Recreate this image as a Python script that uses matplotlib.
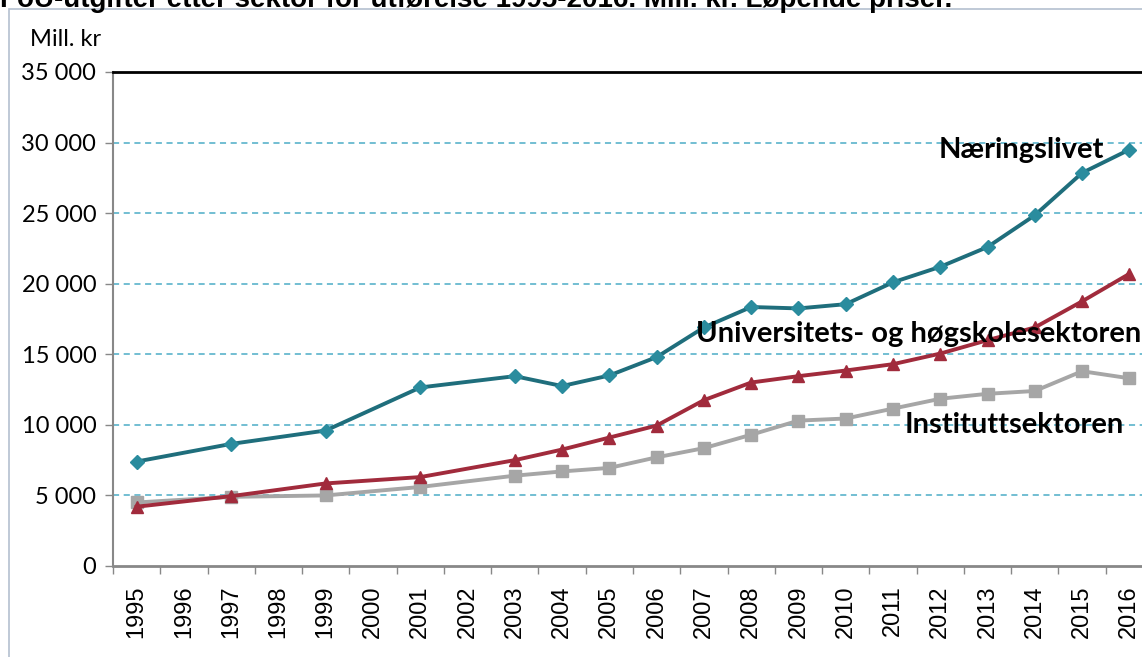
import numpy as np
import matplotlib
matplotlib.use("Agg")
import matplotlib.pyplot as plt
from matplotlib.patches import Rectangle

years = [str(y) for y in range(1995, 2017)]
nan = np.nan
naeringslivet = [7400, nan, 8650, nan, 9600, nan, 12650, nan, 13450, 12750, 13500,
                 14800, 16900, 18350, 18250, 18550, 20100, 21200, 22600, 24850,
                 27850, 29500]
uh_sektoren = [4200, nan, 4950, nan, 5850, nan, 6300, nan, 7500, 8250, 9100,
               9950, 11750, 13000, 13450, 13850, 14300, 15050, 16000, 16900,
               18750, 20700]
instituttsektoren = [4500, nan, 4900, nan, 5000, nan, 5600, nan, 6400, 6700, 6950,
                     7700, 8350, 9300, 10300, 10450, 11150, 11850, 12200, 12400,
                     13800, 13300]
yticks = [0, 5000, 10000, 15000, 20000, 25000, 30000, 35000]

fig = plt.figure(figsize=(11.42, 6.57), dpi=100)
ax = fig.add_axes([113 / 1142, 1 - 566 / 657, 1040 / 1142, 494 / 657])

x = np.arange(len(years))

def plot_series(vals, color, mcolor, marker, ms):
    v = np.array(vals, dtype=float)
    m = ~np.isnan(v)
    ax.plot(x[m], v[m], color=color, lw=2.8, marker=marker, ms=ms,
            markerfacecolor=mcolor, markeredgecolor=mcolor, zorder=3,
            clip_on=False)

plot_series(instituttsektoren, "#A6A6A6", "#A6A6A6", "s", 9)
plot_series(uh_sektoren, "#A12B3C", "#A12B3C", "^", 9)
plot_series(naeringslivet, "#1F6E7C", "#2A8C9E", "D", 7.5)

ax.set_xlim(-0.5, 21.5)
ax.set_ylim(0, 35000)
ax.set_yticks(yticks)
ax.set_yticklabels([f"{v:,}".replace(",", " ") for v in yticks],
                   fontsize=17, family="Lato")
for v in yticks[1:-1]:
    ax.axhline(v, color="#4BACC6", lw=1.1, ls=(0, (4, 3)), zorder=1)

ax.set_xticks(x)
ax.set_xticklabels(years, rotation=90, fontsize=17, family="Liberation Sans")
ax.set_xticks(np.arange(-0.5, 22, 1), minor=True)
ax.tick_params(axis="x", which="major", length=0, pad=14)
ax.tick_params(axis="x", which="minor", length=6, color="#888888", width=1)
ax.tick_params(axis="y", length=6, color="#888888", width=1, pad=6)

ax.spines["right"].set_visible(False)
ax.spines["top"].set_color("black")
ax.spines["top"].set_linewidth(2)
ax.spines["left"].set_color("#888888")
ax.spines["left"].set_linewidth(1.5)
ax.spines["bottom"].set_color("#888888")
ax.spines["bottom"].set_linewidth(2)

ax.text(20.47, 29450, "Næringslivet", ha="right", va="center",
        fontsize=21, fontweight="bold", family="Lato", zorder=4)
ax.text(21.25, 16450, "Universitets- og høgskolesektoren", ha="right", va="center",
        fontsize=21, fontweight="bold", family="Lato", zorder=4)
ax.text(20.89, 10000, "Instituttsektoren", ha="right", va="center",
        fontsize=21, fontweight="bold", family="Lato", zorder=4)

fig.text(30 / 1142, 1 - 40 / 657, "Mill. kr", fontsize=17, family="Lato",
         va="center", ha="left")

fig.patches.append(Rectangle((9 / 1142, -0.1), 1.2, 1 - 9 / 657 + 0.1,
                             transform=fig.transFigure, fill=False,
                             edgecolor="#B4C0D0", lw=1.2))
fig.text(0.0, 1 - 7 / 657, "FoU-utgifter etter sektor for utførelse 1995-2016. "
         "Mill. kr. Løpende priser.", fontsize=20, fontweight="bold",
         family="Liberation Sans", va="baseline", ha="left")

fig.savefig("out.png", dpi=100)
